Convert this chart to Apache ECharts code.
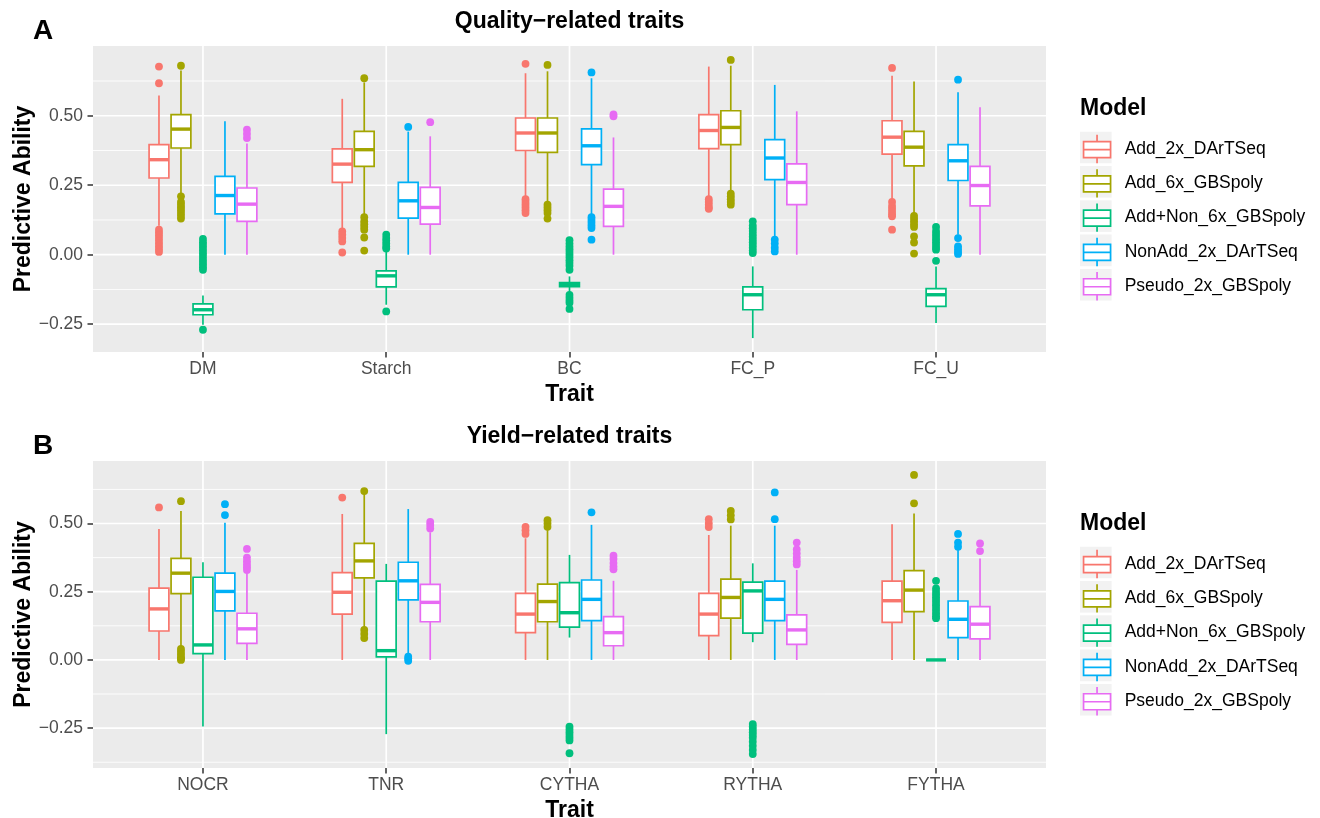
<!DOCTYPE html>
<html><head><meta charset="utf-8">
<script src="https://cdn.jsdelivr.net/npm/echarts@6/dist/echarts.min.js"></script>
<style>html,body{margin:0;padding:0;background:#fff}#chart{width:1320px;height:818px}</style>
</head><body><div id="chart"></div>
<script>
// ---------- DATA ----------
const models = ['Add_2x_DArTSeq', 'Add_6x_GBSpoly', 'Add+Non_6x_GBSpoly', 'NonAdd_2x_DArTSeq', 'Pseudo_2x_GBSpoly'];
const modelColors = ['#F8766D', '#A3A500', '#00BF7D', '#00B0F6', '#E76BF3'];
const traitsA = ['DM', 'Starch', 'BC', 'FC_P', 'FC_U'];
const traitsB = ['NOCR', 'TNR', 'CYTHA', 'RYTHA', 'FYTHA'];
const yTickValues = [-0.25, 0, 0.25, 0.5];

// Panel A: [lower whisker, Q1, median, Q3, upper whisker] per trait
const boxA_Add2x    = [[0.104, 0.276, 0.342, 0.396, 0.573], [0.096, 0.26, 0.326, 0.381, 0.561], [0.21, 0.375, 0.438, 0.492, 0.653], [0.21, 0.382, 0.447, 0.504, 0.677], [0.198, 0.362, 0.423, 0.482, 0.644]];
const boxA_Add6x    = [[0.222, 0.384, 0.452, 0.504, 0.663], [0.144, 0.318, 0.378, 0.444, 0.62], [0.192, 0.368, 0.438, 0.492, 0.66], [0.228, 0.396, 0.458, 0.518, 0.68], [0.15, 0.32, 0.387, 0.444, 0.623]];
const boxA_AddNon6x = [[-0.252, -0.216, -0.198, -0.177, -0.147], [-0.18, -0.116, -0.076, -0.058, 0.015], [-0.135, -0.115, -0.107, -0.1, -0.078], [-0.30, -0.198, -0.144, -0.116, -0.042], [-0.246, -0.186, -0.144, -0.122, -0.042]];
const boxA_NonAdd2x = [[0.0, 0.147, 0.213, 0.282, 0.48], [0.0, 0.132, 0.194, 0.26, 0.443], [0.144, 0.324, 0.392, 0.453, 0.635], [0.066, 0.27, 0.348, 0.414, 0.611], [0.072, 0.267, 0.338, 0.396, 0.585]];
const boxA_Pseudo2x = [[0.0, 0.12, 0.182, 0.24, 0.40], [0.0, 0.11, 0.17, 0.242, 0.426], [0.0, 0.102, 0.174, 0.236, 0.422], [0.0, 0.18, 0.26, 0.327, 0.516], [0.0, 0.176, 0.249, 0.318, 0.531]];

// Panel A outliers per trait
const outA_Add2x    = [[0.677, 0.617, 0.09, 0.08, 0.07, 0.06, 0.05, 0.04, 0.03, 0.02, 0.01], [0.084, 0.072, 0.06, 0.048, 0.008], [0.687, 0.2, 0.19, 0.18, 0.17, 0.16, 0.15], [0.2, 0.19, 0.18, 0.17, 0.165], [0.672, 0.19, 0.175, 0.165, 0.155, 0.145, 0.138, 0.09]];
const outA_Add6x    = [[0.68, 0.21, 0.19, 0.18, 0.17, 0.16, 0.15, 0.14, 0.13], [0.635, 0.135, 0.12, 0.11, 0.10, 0.09, 0.062, 0.015], [0.683, 0.18, 0.17, 0.16, 0.15, 0.13], [0.701, 0.22, 0.21, 0.2, 0.19, 0.18], [0.14, 0.13, 0.12, 0.11, 0.10, 0.066, 0.044, 0.004]];
const outA_AddNon6x = [[0.057, 0.045, 0.035, 0.025, 0.015, 0.005, -0.005, -0.015, -0.025, -0.035, -0.045, -0.054, -0.27], [0.072, 0.06, 0.05, 0.04, 0.03, 0.022, -0.204], [0.052, 0.04, 0.03, 0.02, 0.01, 0, -0.01, -0.02, -0.03, -0.04, -0.054, -0.145, -0.155, -0.165, -0.173, -0.195], [0.12, 0.105, 0.095, 0.085, 0.075, 0.065, 0.055, 0.045, 0.035, 0.025, 0.015, 0.006], [0.1, 0.085, 0.075, 0.065, 0.055, 0.045, 0.035, 0.025, 0.018, -0.022]];
const outA_NonAdd2x = [[], [0.46], [0.656, 0.135, 0.125, 0.115, 0.105, 0.096, 0.054], [0.054, 0.04, 0.025, 0.012], [0.63, 0.06, 0.03, 0.02, 0.01, 0.003]];
const outA_Pseudo2x = [[0.45, 0.435, 0.42], [0.477], [0.505, 0.498], [], []];

// Panel B: [lower whisker, Q1, median, Q3, upper whisker] per trait
const boxB_Add2x    = [[0, 0.106, 0.187, 0.263, 0.48], [0, 0.168, 0.248, 0.32, 0.535], [0, 0.1, 0.168, 0.244, 0.446], [0, 0.089, 0.168, 0.244, 0.458], [0, 0.138, 0.217, 0.289, 0.497]];
const boxB_Add6x    = [[0.045, 0.243, 0.318, 0.372, 0.546], [0.116, 0.301, 0.363, 0.427, 0.61], [0, 0.14, 0.214, 0.278, 0.476], [0, 0.153, 0.229, 0.296, 0.492], [0, 0.177, 0.256, 0.327, 0.537]];
const boxB_AddNon6x = [[-0.244, 0.023, 0.055, 0.303, 0.358], [-0.272, 0.011, 0.034, 0.289, 0.352], [0.082, 0.12, 0.173, 0.283, 0.385], [0.065, 0.098, 0.253, 0.285, 0.354], [0, 0, 0, 0, 0]];
const boxB_NonAdd2x = [[0, 0.18, 0.251, 0.318, 0.503], [0.018, 0.22, 0.29, 0.358, 0.553], [0, 0.144, 0.222, 0.293, 0.495], [0, 0.144, 0.222, 0.289, 0.492], [0, 0.082, 0.149, 0.216, 0.403]];
const boxB_Pseudo2x = [[0, 0.061, 0.114, 0.171, 0.324], [0, 0.14, 0.211, 0.277, 0.468], [0, 0.052, 0.1, 0.159, 0.29], [0, 0.057, 0.11, 0.165, 0.33], [0, 0.077, 0.131, 0.195, 0.372]];

// Panel B outliers per trait
const outB_Add2x    = [[0.559], [0.595], [0.488, 0.475, 0.462], [0.516, 0.5, 0.487], []];
const outB_Add6x    = [[0.582, 0.04, 0.03, 0.02, 0.01, 0.005, 0], [0.619, 0.11, 0.095, 0.08], [0.512, 0.5, 0.488], [0.546, 0.53, 0.515], [0.678, 0.574]];
const outB_AddNon6x = [[], [], [-0.245, -0.255, -0.265, -0.275, -0.285, -0.295, -0.342], [-0.235, -0.245, -0.255, -0.265, -0.275, -0.285, -0.3, -0.315, -0.33, -0.345], [0.29, 0.262, 0.25, 0.24, 0.23, 0.22, 0.21, 0.2, 0.19, 0.18, 0.17, 0.16, 0.153]];
const outB_NonAdd2x = [[0.571, 0.531], [0.012, 0.005, -0.003], [0.541], [0.614, 0.516], [0.462, 0.43, 0.415]];
const outB_Pseudo2x = [[0.407, 0.375, 0.362, 0.35, 0.34, 0.33], [0.506, 0.495, 0.482], [0.382, 0.37, 0.355, 0.342, 0.332], [0.43, 0.405, 0.39, 0.375, 0.362, 0.35], [0.427, 0.399]];

// ---------- BUILD ----------
const boxesA = [boxA_Add2x, boxA_Add6x, boxA_AddNon6x, boxA_NonAdd2x, boxA_Pseudo2x];
const outsA  = [outA_Add2x, outA_Add6x, outA_AddNon6x, outA_NonAdd2x, outA_Pseudo2x];
const boxesB = [boxB_Add2x, boxB_Add6x, boxB_AddNon6x, boxB_NonAdd2x, boxB_Pseudo2x];
const outsB  = [outB_Add2x, outB_Add6x, outB_AddNon6x, outB_NonAdd2x, outB_Pseudo2x];

const FONT = '"Liberation Sans", Arial, Helvetica, sans-serif';
const DODGE = 0.12, BOX_W = 0.108, LW = 1.7;
const pos = (t, m) => t + 1 + (m - 2) * DODGE;

function yRange(boxes, outs) {
  let lo = Infinity, hi = -Infinity;
  boxes.forEach(b => b.forEach(s => { lo = Math.min(lo, s[0]); hi = Math.max(hi, s[4]); }));
  outs.forEach(o => o.forEach(arr => arr.forEach(v => { lo = Math.min(lo, v); hi = Math.max(hi, v); })));
  const pad = (hi - lo) * 0.05;
  return [lo - pad, hi + pad];
}
function gridData(range, nCat) {
  const step = yTickValues[1] - yTickValues[0];
  const d = [];
  yTickValues.forEach(v => { if (v >= range[0] && v <= range[1]) d.push([0, v, 1]); });
  const minors = [yTickValues[0] - step / 2];
  yTickValues.forEach(v => minors.push(v + step / 2));
  minors.forEach(v => { if (v >= range[0] && v <= range[1]) d.push([0, v, 0]); });
  for (let i = 1; i <= nCat; i++) d.push([1, i, 1]);
  return d;
}
function gridRender(params, api) {
  const cs = params.coordSys;
  const orient = api.value(0), v = api.value(1), major = api.value(2);
  const lw = major ? 1.7 : 0.85;
  if (orient === 0) {
    const y = api.coord([1, v])[1];
    return { type: 'line', shape: { x1: cs.x, y1: y, x2: cs.x + cs.width, y2: y }, style: { stroke: '#FFFFFF', lineWidth: lw } };
  }
  const x = api.coord([v, 0])[0];
  return { type: 'line', shape: { x1: x, y1: cs.y, x2: x, y2: cs.y + cs.height }, style: { stroke: '#FFFFFF', lineWidth: lw } };
}
function boxRender(params, api) {
  const x = api.value(0);
  const lo = api.value(1), q1 = api.value(2), med = api.value(3), q3 = api.value(4), hi = api.value(5);
  const color = api.visual('color');
  const h = BOX_W / 2;
  const pHi = api.coord([x, hi]), pLo = api.coord([x, lo]);
  const pQ1 = api.coord([x - h, q1]), pQ3 = api.coord([x + h, q3]);
  const pM = api.coord([x - h, med]), pMR = api.coord([x + h, med]);
  return {
    type: 'group',
    children: [
      { type: 'line', shape: { x1: pHi[0], y1: pHi[1], x2: pHi[0], y2: pQ3[1] }, style: { stroke: color, lineWidth: LW } },
      { type: 'line', shape: { x1: pLo[0], y1: pLo[1], x2: pLo[0], y2: pQ1[1] }, style: { stroke: color, lineWidth: LW } },
      { type: 'rect', shape: { x: pQ1[0], y: pQ3[1], width: pQ3[0] - pQ1[0], height: pQ1[1] - pQ3[1] }, style: { fill: '#FFFFFF', stroke: color, lineWidth: LW } },
      { type: 'line', shape: { x1: pM[0], y1: pM[1], x2: pMR[0], y2: pMR[1] }, style: { stroke: color, lineWidth: LW * 2 } }
    ]
  };
}

const rangeA = yRange(boxesA, outsA);
const rangeB = yRange(boxesB, outsB);

const series = [];
function addPanel(idx, boxes, outs, range, nCat) {
  series.push({ type: 'custom', name: '_grid' + idx, xAxisIndex: idx, yAxisIndex: idx, silent: true, z: 1,
    renderItem: gridRender, data: gridData(range, nCat) });
  boxes.forEach((b, m) => {
    series.push({ type: 'scatter', name: models[m], xAxisIndex: idx, yAxisIndex: idx, z: 2,
      symbolSize: 7.8, itemStyle: { color: modelColors[m], opacity: 1 },
      data: outs[m].flatMap((arr, t) => arr.map(v => [pos(t, m), v])) });
    series.push({ type: 'custom', name: models[m], xAxisIndex: idx, yAxisIndex: idx, z: 3,
      itemStyle: { color: modelColors[m] },
      encode: { x: 0, y: [1, 2, 3, 4, 5] },
      renderItem: boxRender,
      data: b.map((s, t) => [pos(t, m)].concat(s)) });
  });
}
addPanel(0, boxesA, outsA, rangeA, traitsA.length);
addPanel(1, boxesB, outsB, rangeB, traitsB.length);

const LEFT = 93, WIDTH = 953;
const tops = [46, 461], heights = [306, 307];
const traitLists = [traitsA, traitsB];
const ranges = [rangeA, rangeB];

const xAxes = [0, 1].map(i => ({
  type: 'value', gridIndex: i, min: 0.4, max: traitLists[i].length + 0.6, position: 'bottom',
  name: 'Trait', nameLocation: 'middle', nameGap: 31,
  nameTextStyle: { fontFamily: FONT, fontSize: 23, fontWeight: 'bold', color: '#000' },
  axisLine: { show: false, onZero: false }, splitLine: { show: false },
  axisTick: { show: true, length: 5.5, customValues: traitLists[i].map((_, k) => k + 1), lineStyle: { color: '#333333', width: 1.5 } },
  axisLabel: { customValues: traitLists[i].map((_, k) => k + 1), margin: 8, fontFamily: FONT, fontSize: 17.5, color: '#4D4D4D',
    formatter: v => traitLists[i][Math.round(v) - 1] }
}));
const yAxes = [0, 1].map(i => ({
  type: 'value', gridIndex: i, min: ranges[i][0], max: ranges[i][1], position: 'left',
  name: 'Predictive Ability', nameLocation: 'middle', nameGap: 58, nameRotate: 90, nameMoveOverlap: false,
  nameTextStyle: { fontFamily: FONT, fontSize: 23, fontWeight: 'bold', color: '#000' },
  axisLine: { show: false, onZero: false }, splitLine: { show: false },
  axisTick: { show: true, length: 5.5, customValues: yTickValues, lineStyle: { color: '#333333', width: 1.5 } },
  axisLabel: { customValues: yTickValues, margin: 10, fontFamily: FONT, fontSize: 17.5, color: '#4D4D4D',
    formatter: v => (v < 0 ? '\u2212' : '') + Math.abs(v).toFixed(2) }
}));

const ICON = 'path://M13.5,0L13.5,6.7M0,6.7L27,6.7L27,22.7L0,22.7ZM0,14.7L27,14.7M13.5,22.7L13.5,28.4';
const legends = [0, 1].map(i => ({
  orient: 'vertical', left: 1082.7, top: 134 + i * 415, selectedMode: false, padding: 0,
  itemWidth: 27.3, itemHeight: 28.4, itemGap: 4.2,
  textStyle: { fontFamily: FONT, fontSize: 17.5, color: '#000', padding: [0, 0, 0, 9] },
  data: models.map((n, m) => ({ name: n, icon: ICON, itemStyle: { color: '#FFFFFF', borderColor: modelColors[m], borderWidth: LW } }))
}));

const graphics = [];
[0, 1].forEach(i => {
  const dy = i * 415;
  graphics.push({ type: 'text', x: LEFT + WIDTH / 2, y: 22 + dy, style: { text: i === 0 ? 'Quality\u2212related traits' : 'Yield\u2212related traits', fontFamily: FONT, fontSize: 23, fontWeight: 'bold', fill: '#000', align: 'center', verticalAlign: 'middle' } });
  graphics.push({ type: 'text', x: 33, y: 31 + dy, style: { text: i === 0 ? 'A' : 'B', fontFamily: FONT, fontSize: 28, fontWeight: 'bold', fill: '#000', align: 'left', verticalAlign: 'middle' } });
  graphics.push({ type: 'text', x: 1080, y: 109 + dy, style: { text: 'Model', fontFamily: FONT, fontSize: 23, fontWeight: 'bold', fill: '#000', align: 'left', verticalAlign: 'middle' } });
  models.forEach((_, m) => {
    graphics.push({ type: 'rect', z: -1, shape: { x: 1080, y: 131.7 + dy + m * 34.3, width: 31.6, height: 31.6 }, style: { fill: '#F2F2F2' } });
  });
});

const option = {
  animation: false,
  backgroundColor: '#FFFFFF',
  color: modelColors,
  grid: [0, 1].map(i => ({ left: LEFT, top: tops[i], width: WIDTH, height: heights[i], show: true, backgroundColor: '#EBEBEB', borderWidth: 0, outerBoundsMode: 'none', containLabel: false })),
  xAxis: xAxes,
  yAxis: yAxes,
  legend: legends,
  graphic: graphics,
  series: series
};
const chart = echarts.init(document.getElementById('chart'), null, { renderer: 'canvas' });
chart.setOption(option);
</script></body></html>
